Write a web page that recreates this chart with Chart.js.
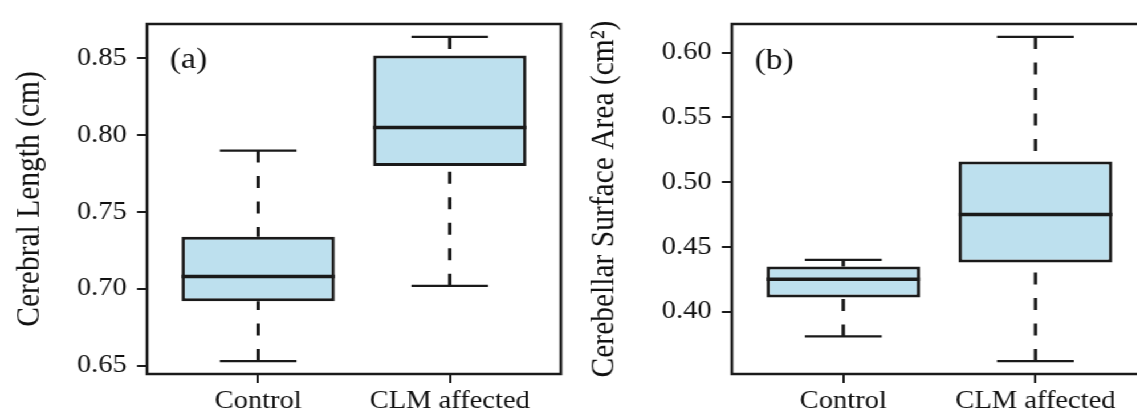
<!DOCTYPE html>
<html>
<head>
<meta charset="utf-8">
<script src="https://cdn.jsdelivr.net/npm/chart.js@4.4.1/dist/chart.umd.min.js"></script>
<style>
html, body { margin: 0; padding: 0; background: #fff; width: 1137px; height: 414px; overflow: hidden; }
#wrap { position: absolute; left: 0; top: 0; width: 1020px; height: 414px; transform: scaleX(1.14); transform-origin: 0 0; }
.panel { position: absolute; top: 0; height: 414px; }
#pa { left: 0; width: 500px; }
#pb { left: 500px; width: 520px; }
</style>
</head>
<body>
<div id="wrap">
  <div class="panel" id="pa"><canvas id="chartA"></canvas></div>
  <div class="panel" id="pb"><canvas id="chartB"></canvas></div>
</div>
<script>
const categories = ['Control', 'CLM affected'];

// five-number summaries: [min, q1, median, q3, max]
const lengthControl = [0.653, 0.692, 0.708, 0.734, 0.790];
const lengthCLM = [0.702, 0.780, 0.805, 0.852, 0.864];
const areaControl = [0.381, 0.411, 0.425, 0.435, 0.440];
const areaCLM = [0.362, 0.438, 0.475, 0.516, 0.612];

const lengthTicks = [0.65, 0.70, 0.75, 0.80, 0.85];
const areaTicks = [0.40, 0.45, 0.50, 0.55, 0.60];

Chart.defaults.font.family = '"Liberation Serif", "Times New Roman", serif';
Chart.defaults.color = '#111';

const ink = '#1a1a1a';
const textInk = '#111';
const boxPct = 0.8;     // box width in category units
const capHalf = 0.2;    // half width of whisker caps

// frame round the plot area + panel letter
const framePlugin = {
  id: 'frame',
  afterDatasetsDraw(chart, args, opts) {
    const { ctx, chartArea: a } = chart;
    ctx.save();
    ctx.strokeStyle = ink;
    ctx.lineWidth = 2.5;
    ctx.strokeRect(a.left, a.top, a.right - a.left, a.bottom - a.top);
    ctx.fillStyle = textInk;
    ctx.font = '29.5px "Liberation Serif"';
    ctx.textBaseline = 'alphabetic';
    ctx.fillText(opts.text, a.left + 20, a.top + opts.baseline);
    ctx.restore();
  }
};

function makeChart(id, boxes, yTicks, yTitle, letter, letterBase, yAxisWidth, titlePad, padRight) {
  const lo = Math.min(...boxes.map(b => b[0]));
  const hi = Math.max(...boxes.map(b => b[4]));
  const ext = (hi - lo) * 0.04;
  const half = boxPct / 2;

  const boxData = boxes.map((b, i) => ({ x: i + 1, y: [b[1], b[3]] }));
  const medianData = boxes.flatMap((b, i) => [
    { x: i + 1 - half, y: b[2] }, { x: i + 1 + half, y: b[2] }, { x: i + 1, y: null }
  ]);
  const whiskerData = boxes.flatMap((b, i) => [
    { x: i + 1, y: b[4] }, { x: i + 1, y: b[3] }, { x: i + 1, y: null },
    { x: i + 1, y: b[0] }, { x: i + 1, y: b[1] }, { x: i + 1, y: null }
  ]);
  const capData = boxes.flatMap((b, i) => [
    { x: i + 1 - capHalf, y: b[4] }, { x: i + 1 + capHalf, y: b[4] }, { x: i + 1, y: null },
    { x: i + 1 - capHalf, y: b[0] }, { x: i + 1 + capHalf, y: b[0] }, { x: i + 1, y: null }
  ]);

  return new Chart(document.getElementById(id), {
    type: 'bar',
    data: {
      datasets: [
        {
          type: 'line', data: medianData, borderColor: ink, borderWidth: 3.5,
          pointRadius: 0, borderCapStyle: 'butt', order: 0
        },
        {
          type: 'bar', data: boxData, backgroundColor: '#bde0ee', borderColor: ink,
          borderWidth: 3, borderSkipped: false, categoryPercentage: boxPct, barPercentage: 1, order: 1
        },
        {
          type: 'line', data: whiskerData, borderColor: ink, borderWidth: 3,
          borderDash: [12, 13.5], pointRadius: 0, borderCapStyle: 'butt', order: 2
        },
        {
          type: 'line', data: capData, borderColor: ink, borderWidth: 2.2,
          pointRadius: 0, order: 2
        }
      ]
    },
    options: {
      responsive: true,
      maintainAspectRatio: false,
      animation: false,
      events: [],
      layout: { padding: { top: 21, right: padRight, left: 0, bottom: 0 } },
      plugins: {
        legend: { display: false },
        tooltip: { enabled: false },
        frame: { text: letter, baseline: letterBase }
      },
      scales: {
        x: {
          type: 'linear',
          min: 0.42,
          max: 2.58,
          offset: false,
          afterBuildTicks: s => { s.ticks = categories.map((c, i) => ({ value: i + 1 })); },
          afterFit: s => { s.height = 40; },
          ticks: {
            callback: v => categories[v - 1],
            font: { size: 25 },
            color: textInk,
            padding: 3,
            maxRotation: 0,
            autoSkip: false
          },
          grid: { drawOnChartArea: false, offset: false, tickLength: 9, color: ink, lineWidth: 2 },
          border: { display: false }
        },
        y: {
          min: lo - ext,
          max: hi + ext,
          afterBuildTicks: s => { s.ticks = yTicks.map(v => ({ value: v })); },
          afterFit: s => { s.width = yAxisWidth; },
          ticks: {
            callback: v => v.toFixed(2),
            font: { size: 25 },
            color: textInk,
            padding: 9
          },
          grid: { drawOnChartArea: false, tickLength: 8.8, color: ink, lineWidth: 2 },
          border: { display: false },
          title: {
            display: true,
            text: yTitle,
            font: { size: 29.5 },
            color: textInk,
            padding: { top: titlePad, bottom: 0 }
          }
        }
      }
    },
    plugins: [framePlugin]
  });
}

makeChart('chartA', [lengthControl, lengthCLM], lengthTicks,
  'Cerebral Length (cm)', '(a)', 44, 129, 8.6, 8);
makeChart('chartB', [areaControl, areaCLM], areaTicks,
  'Cerebellar Surface Area (cm²)', '(b)', 45, 142, 12.5, 14);
</script>
</body>
</html>
